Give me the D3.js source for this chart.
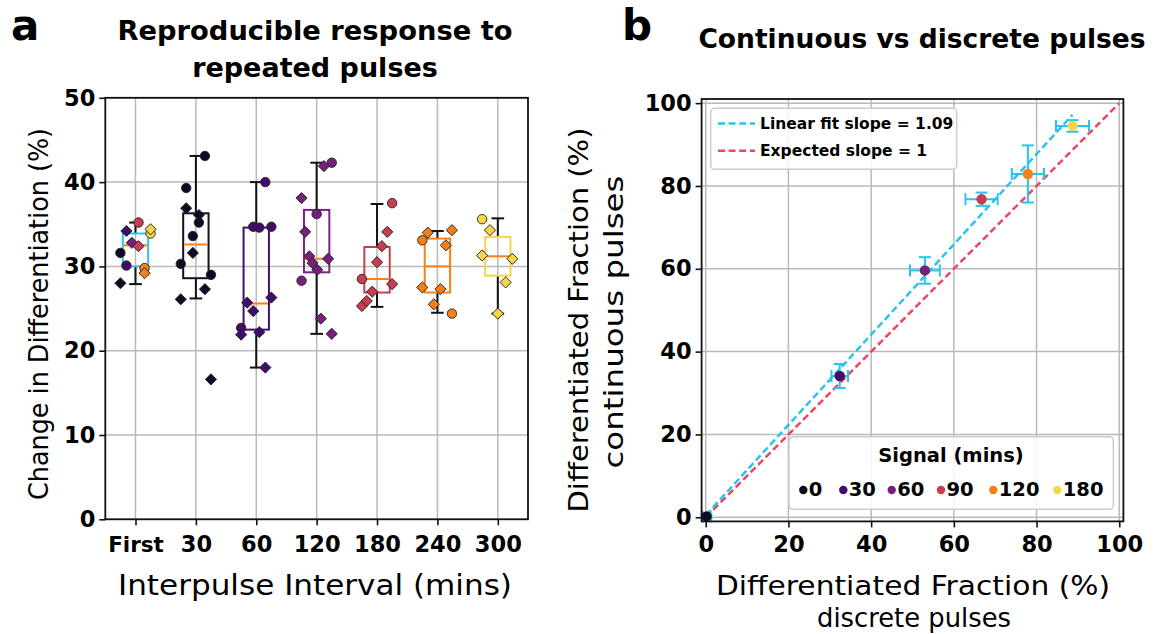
<!DOCTYPE html>
<html>
<head>
<meta charset="utf-8">
<script src="https://cdn.jsdelivr.net/npm/d3@7"></script>
<style>
  html, body { margin: 0; padding: 0; background: #ffffff; }
  svg { display: block; font-family: "DejaVu Sans", sans-serif; }
</style>
</head>
<body>
<svg id="fig" width="1154" height="634"></svg>
<script>
// ---------- Panel a: response to repeated pulses ----------
const categories = ["First", "30", "60", "120", "180", "240", "300"];
const yTicksA = [0, 10, 20, 30, 40, 50];

// Box statistics per interval
const boxQ1 = [30.0, 28.6, 22.5, 29.3, 26.9, 26.9, 28.9];
const boxMedian = [32.5, 32.6, 25.6, 30.9, 28.5, 30.0, 31.2];
const boxQ3 = [33.9, 36.3, 34.6, 36.7, 32.3, 33.3, 33.5];
const whiskerLow = [27.9, 26.2, 18.0, 22.0, 25.2, 24.5, 24.4];
const whiskerHigh = [35.2, 43.1, 40.0, 42.3, 37.4, 34.2, 35.7];

// Series colours (signal index 0..5) and box colours per category
const seriesColors = ["#0e0a22", "#420d6a", "#761f7c", "#c83e50", "#f57f17", "#f6d648"];
const boxColors = ["#2fc3f0", "#140e26", "#440f70", "#7a2380", "#c83e50", "#f78114", "#f6d648"];

// Individual measurements: [category, offset, value, marker, colour index]
const firstPts = [
  [0, -0.25, 31.6, "o", 0], [0, -0.25, 28.0, "d", 0],
  [0, -0.15, 30.1, "o", 1], [0, -0.15, 34.2, "d", 1],
  [0, -0.06, 32.8, "d", 2],
  [0, 0.05, 35.2, "o", 3], [0, 0.05, 32.4, "d", 3],
  [0, 0.15, 29.8, "o", 4], [0, 0.15, 29.2, "d", 4],
  [0, 0.25, 33.9, "o", 5], [0, 0.25, 34.4, "d", 5]
];
const pts30 = [
  [1, -0.25, 30.3, "o", 0], [1, -0.25, 26.1, "d", 0],
  [1, -0.16, 39.3, "o", 0], [1, -0.16, 36.9, "d", 0],
  [1, -0.05, 33.6, "o", 0], [1, -0.05, 31.6, "d", 0],
  [1, 0.05, 35.2, "o", 0], [1, 0.05, 36.1, "d", 0],
  [1, 0.15, 43.1, "o", 0], [1, 0.15, 27.3, "d", 0],
  [1, 0.25, 29.0, "o", 0], [1, 0.25, 16.6, "d", 0]
];
const pts60 = [
  [2, -0.25, 22.7, "o", 1], [2, -0.25, 21.9, "d", 1],
  [2, -0.15, 25.7, "d", 1],
  [2, -0.05, 34.7, "o", 1], [2, -0.05, 24.7, "d", 1],
  [2, 0.05, 34.6, "o", 1], [2, 0.05, 22.2, "d", 1],
  [2, 0.15, 40.0, "o", 1], [2, 0.15, 18.0, "d", 1],
  [2, 0.25, 34.7, "o", 1], [2, 0.25, 26.3, "d", 1]
];
const pts120 = [
  [3, -0.25, 28.3, "o", 2], [3, -0.25, 38.1, "d", 2],
  [3, -0.19, 34.1, "d", 2], [3, -0.12, 31.2, "d", 2],
  [3, -0.07, 30.4, "d", 2], [3, 0.0, 36.2, "o", 2],
  [3, 0.01, 29.6, "d", 2], [3, 0.07, 23.8, "d", 2],
  [3, 0.12, 41.9, "d", 2], [3, 0.19, 30.9, "d", 2],
  [3, 0.25, 42.3, "o", 2], [3, 0.25, 22.0, "d", 2]
];
const pts180 = [
  [4, -0.25, 28.5, "o", 3], [4, -0.25, 25.3, "d", 3],
  [4, -0.17, 25.9, "d", 3], [4, -0.08, 27.0, "d", 3],
  [4, 0.0, 30.5, "d", 3], [4, 0.08, 32.4, "d", 3],
  [4, 0.17, 34.1, "d", 3],
  [4, 0.25, 37.5, "o", 3], [4, 0.25, 27.9, "d", 3]
];
const pts240 = [
  [5, -0.25, 33.1, "o", 4], [5, -0.25, 27.5, "d", 4],
  [5, -0.16, 34.0, "d", 4], [5, -0.06, 25.5, "d", 4],
  [5, 0.05, 27.3, "d", 4], [5, 0.14, 32.5, "d", 4],
  [5, 0.24, 24.4, "o", 4], [5, 0.24, 34.3, "d", 4]
];
const pts300 = [
  [6, -0.26, 35.6, "o", 5], [6, -0.26, 31.3, "d", 5],
  [6, -0.13, 34.3, "d", 5], [6, 0.0, 24.4, "d", 5],
  [6, 0.13, 28.1, "d", 5], [6, 0.24, 30.9, "d", 5]
];

// ---------- Panel b: continuous vs discrete ----------
const signalLabels = ["0", "30", "60", "90", "120", "180"];
const discreteFrac = [0.2, 32.4, 53.0, 66.7, 77.9, 88.7];
const discreteErr = [1.0, 2.0, 3.6, 3.9, 3.9, 4.0];
const continuousFrac = [0.2, 34.1, 59.6, 76.8, 82.9, 94.5];
const continuousErr = [0.4, 2.9, 3.2, 1.6, 6.9, 1.4];
const fitSlope = 1.09;
const fitIntercept = 0.5;
const expectedSlope = 1;
const ticksB = [0, 20, 40, 60, 80, 100];

const svg = d3.select("#fig");
const gridColor = "#b9b9b9";
const FONT = "DejaVu Sans, sans-serif";

// text helper: fixed extent so label spans its slot
function label(g, txt, opts) {
  const t = g.append("text")
    .attr("text-anchor", "middle").attr("dominant-baseline", "central")
    .attr("font-family", FONT).attr("font-size", opts.size)
    .attr("font-weight", opts.bold ? "bold" : "normal")
    .text(txt);
  if (opts.rotate) t.attr("transform", `translate(${opts.x},${opts.y}) rotate(-90)`);
  else t.attr("x", opts.x).attr("y", opts.y);
  if (opts.len) t.attr("textLength", opts.len).attr("lengthAdjust", "spacingAndGlyphs");
  return t;
}

// ===== Panel a =====
const ax = { left: 105.3, right: 528, top: 97.8, bottom: 519.3 };
const xA = d3.scaleLinear().domain([-0.5, 6.5]).range([ax.left, ax.right]);
const yA = d3.scaleLinear().domain([0, 50]).range([ax.bottom, ax.top]);
const gA = svg.append("g");

// grid
gA.selectAll("line.vgrid").data(categories).join("line")
  .attr("x1", (d, i) => xA(i)).attr("x2", (d, i) => xA(i))
  .attr("y1", ax.top).attr("y2", ax.bottom)
  .attr("stroke", gridColor).attr("stroke-width", 1.5);
gA.selectAll("line.hgrid").data(yTicksA).join("line")
  .attr("x1", ax.left).attr("x2", ax.right)
  .attr("y1", d => yA(d)).attr("y2", d => yA(d))
  .attr("stroke", gridColor).attr("stroke-width", 1.5);

// boxes
const boxW = 0.42, capW = 0.21;
const boxes = gA.selectAll("g.box").data(categories).join("g");
boxes.append("line") // lower whisker
  .attr("x1", (d, i) => xA(i)).attr("x2", (d, i) => xA(i))
  .attr("y1", (d, i) => yA(boxQ1[i])).attr("y2", (d, i) => yA(whiskerLow[i]))
  .attr("stroke", "#111").attr("stroke-width", 2);
boxes.append("line") // upper whisker
  .attr("x1", (d, i) => xA(i)).attr("x2", (d, i) => xA(i))
  .attr("y1", (d, i) => yA(boxQ3[i])).attr("y2", (d, i) => yA(whiskerHigh[i]))
  .attr("stroke", "#111").attr("stroke-width", 2);
boxes.append("line") // lower cap
  .attr("x1", (d, i) => xA(i - capW / 2)).attr("x2", (d, i) => xA(i + capW / 2))
  .attr("y1", (d, i) => yA(whiskerLow[i])).attr("y2", (d, i) => yA(whiskerLow[i]))
  .attr("stroke", "#111").attr("stroke-width", 2);
boxes.append("line") // upper cap
  .attr("x1", (d, i) => xA(i - capW / 2)).attr("x2", (d, i) => xA(i + capW / 2))
  .attr("y1", (d, i) => yA(whiskerHigh[i])).attr("y2", (d, i) => yA(whiskerHigh[i]))
  .attr("stroke", "#111").attr("stroke-width", 2);
boxes.append("rect")
  .attr("x", (d, i) => xA(i - boxW / 2))
  .attr("width", (d, i) => xA(i + boxW / 2) - xA(i - boxW / 2))
  .attr("y", (d, i) => yA(boxQ3[i]))
  .attr("height", (d, i) => yA(boxQ1[i]) - yA(boxQ3[i]))
  .attr("fill", "none").attr("stroke", (d, i) => boxColors[i]).attr("stroke-width", 2);
boxes.append("line") // median
  .attr("x1", (d, i) => xA(i - boxW / 2) + 1).attr("x2", (d, i) => xA(i + boxW / 2) - 1)
  .attr("y1", (d, i) => yA(boxMedian[i])).attr("y2", (d, i) => yA(boxMedian[i]))
  .attr("stroke", "#ff7f0e").attr("stroke-width", 2);

// points: circles beneath diamonds
const allPts = [].concat(firstPts, pts30, pts60, pts120, pts180, pts240, pts300);
const circleSym = d3.symbol().type(d3.symbolCircle).size(70);
const diamondSym = d3.symbol().type(d3.symbolSquare).size(62);
const orderPts = allPts.filter(p => p[3] === "o").concat(allPts.filter(p => p[3] === "d"));
gA.selectAll("path.pt").data(orderPts).join("path")
  .attr("d", p => p[3] === "o" ? circleSym() : diamondSym())
  .attr("transform", p => `translate(${xA(p[0] + p[1])},${yA(p[2])})` + (p[3] === "d" ? " rotate(45)" : ""))
  .attr("fill", p => seriesColors[p[4]])
  .attr("stroke", "#222").attr("stroke-width", 0.9);

// axes frame
gA.append("rect").attr("x", ax.left).attr("y", ax.top)
  .attr("width", ax.right - ax.left).attr("height", ax.bottom - ax.top)
  .attr("fill", "none").attr("stroke", "#111").attr("stroke-width", 1.8);

const axisLeftA = d3.axisLeft(yA).tickValues(yTicksA).tickSize(6).tickPadding(4);
const gyA = gA.append("g").attr("transform", `translate(${ax.left},0)`).call(axisLeftA);
const axisBottomA = d3.axisBottom(xA).tickValues(d3.range(categories.length))
  .tickFormat(i => categories[i]).tickSize(6).tickPadding(11);
const gxA = gA.append("g").attr("transform", `translate(0,${ax.bottom})`).call(axisBottomA);
[gyA, gxA].forEach(g => {
  g.select(".domain").remove();
  g.selectAll(".tick line").attr("stroke", "#111").attr("stroke-width", 1.6);
  g.selectAll(".tick text").attr("font-family", FONT).attr("font-weight", "bold")
    .attr("font-size", 22.5).attr("fill", "#000");
});
gxA.selectAll(".tick text").filter(i => i === 0).attr("font-size", 21.5);

// labels
label(gA, "Change in Differentiation (%)", { x: 38, y: 314, size: 27, rotate: true, len: 372 });
label(gA, "Interpulse Interval (mins)", { x: 315, y: 585, size: 29, len: 394 });
gA.append("text").attr("x", 315).attr("y", 40).attr("text-anchor", "middle")
  .attr("font-family", FONT).attr("font-weight", "bold").attr("font-size", 27)
  .attr("textLength", 395).attr("lengthAdjust", "spacingAndGlyphs")
  .text("Reproducible response to");
gA.append("text").attr("x", 315).attr("y", 77).attr("text-anchor", "middle")
  .attr("font-family", FONT).attr("font-weight", "bold").attr("font-size", 27)
  .text("repeated pulses");
gA.append("text").attr("x", 11).attr("y", 40)
  .attr("font-family", FONT).attr("font-weight", "bold").attr("font-size", 42).text("a");

// ===== Panel b =====
const bx = { left: 701.6, right: 1123.4, top: 99, bottom: 521.4 };
const xB = d3.scaleLinear().domain([-1, 101]).range([bx.left, bx.right]);
const yB = d3.scaleLinear().domain([-1, 101]).range([bx.bottom, bx.top]);
const gB = svg.append("g");

gB.selectAll("line.vg").data(ticksB).join("line")
  .attr("x1", d => xB(d)).attr("x2", d => xB(d)).attr("y1", bx.top).attr("y2", bx.bottom)
  .attr("stroke", gridColor).attr("stroke-width", 1.5);
gB.selectAll("line.hg").data(ticksB).join("line")
  .attr("y1", d => yB(d)).attr("y2", d => yB(d)).attr("x1", bx.left).attr("x2", bx.right)
  .attr("stroke", gridColor).attr("stroke-width", 1.5);

const cyan = "#29c3ee";
const red = "#e84a5f";

// reference and fit lines
const fitX = [0, d3.max(discreteFrac)];
gB.append("line")
  .attr("x1", xB(0)).attr("y1", yB(0))
  .attr("x2", xB(100)).attr("y2", yB(100 * expectedSlope))
  .attr("stroke", red).attr("stroke-width", 2.5).attr("stroke-dasharray", "7,3.6");
gB.append("line")
  .attr("x1", xB(fitX[0])).attr("y1", yB(fitIntercept + fitSlope * fitX[0]))
  .attr("x2", xB(fitX[1])).attr("y2", yB(fitIntercept + fitSlope * fitX[1]))
  .attr("stroke", cyan).attr("stroke-width", 2.5).attr("stroke-dasharray", "7,3.6");

// error bars
const eb = gB.selectAll("g.eb").data(signalLabels).join("g");
const capH = 6;
eb.append("line")
  .attr("x1", (d, i) => xB(discreteFrac[i] - discreteErr[i])).attr("x2", (d, i) => xB(discreteFrac[i] + discreteErr[i]))
  .attr("y1", (d, i) => yB(continuousFrac[i])).attr("y2", (d, i) => yB(continuousFrac[i]))
  .attr("stroke", cyan).attr("stroke-width", 2);
eb.append("line")
  .attr("x1", (d, i) => xB(discreteFrac[i])).attr("x2", (d, i) => xB(discreteFrac[i]))
  .attr("y1", (d, i) => yB(continuousFrac[i] - continuousErr[i])).attr("y2", (d, i) => yB(continuousFrac[i] + continuousErr[i]))
  .attr("stroke", cyan).attr("stroke-width", 2);
[-1, 1].forEach(s => {
  eb.append("line")
    .attr("x1", (d, i) => xB(discreteFrac[i] + s * discreteErr[i])).attr("x2", (d, i) => xB(discreteFrac[i] + s * discreteErr[i]))
    .attr("y1", (d, i) => yB(continuousFrac[i]) - capH).attr("y2", (d, i) => yB(continuousFrac[i]) + capH)
    .attr("stroke", cyan).attr("stroke-width", 2);
  eb.append("line")
    .attr("y1", (d, i) => yB(continuousFrac[i] + s * continuousErr[i])).attr("y2", (d, i) => yB(continuousFrac[i] + s * continuousErr[i]))
    .attr("x1", (d, i) => xB(discreteFrac[i]) - capH).attr("x2", (d, i) => xB(discreteFrac[i]) + capH)
    .attr("stroke", cyan).attr("stroke-width", 2);
});
gB.selectAll("circle.pt").data(signalLabels).join("circle")
  .attr("cx", (d, i) => xB(discreteFrac[i])).attr("cy", (d, i) => yB(continuousFrac[i]))
  .attr("r", 5.2).attr("fill", (d, i) => seriesColors[i]);

// frame + axes
gB.append("rect").attr("x", bx.left).attr("y", bx.top)
  .attr("width", bx.right - bx.left).attr("height", bx.bottom - bx.top)
  .attr("fill", "none").attr("stroke", "#111").attr("stroke-width", 1.8);
const gyB = gB.append("g").attr("transform", `translate(${bx.left},0)`)
  .call(d3.axisLeft(yB).tickValues(ticksB).tickSize(6).tickPadding(4));
const gxB = gB.append("g").attr("transform", `translate(0,${bx.bottom})`)
  .call(d3.axisBottom(xB).tickValues(ticksB).tickSize(6).tickPadding(9));
[gyB, gxB].forEach(g => {
  g.select(".domain").remove();
  g.selectAll(".tick line").attr("stroke", "#111").attr("stroke-width", 1.6);
  g.selectAll(".tick text").attr("font-family", FONT).attr("font-weight", "bold")
    .attr("font-size", 22.5).attr("fill", "#000");
});

// fit legend
const lg1 = gB.append("g");
lg1.append("rect").attr("x", 710.7).attr("y", 108.3).attr("width", 246).attr("height", 61)
  .attr("rx", 4).attr("fill", "#fff").attr("fill-opacity", 0.85)
  .attr("stroke", "#cccccc").attr("stroke-width", 1.5);
const lg1Items = [["Linear fit slope = " + fitSlope.toFixed(2), cyan], ["Expected slope = " + expectedSlope, red]];
lg1Items.forEach((it, k) => {
  const yy = 123.5 + k * 27.3;
  lg1.append("line").attr("x1", 718).attr("x2", 755).attr("y1", yy).attr("y2", yy)
    .attr("stroke", it[1]).attr("stroke-width", 2.5).attr("stroke-dasharray", "7,3.6");
  lg1.append("text").attr("x", 760).attr("y", yy).attr("dominant-baseline", "central")
    .attr("font-family", FONT).attr("font-weight", "bold").attr("font-size", 15.5).text(it[0]);
});

// signal legend
const lg2 = gB.append("g");
lg2.append("rect").attr("x", 789).attr("y", 436.7).attr("width", 324.3).attr("height", 72.6)
  .attr("rx", 4).attr("fill", "#fff").attr("fill-opacity", 0.85)
  .attr("stroke", "#cccccc").attr("stroke-width", 1.5);
lg2.append("text").attr("x", 951).attr("y", 455).attr("text-anchor", "middle").attr("dominant-baseline", "central")
  .attr("font-family", FONT).attr("font-weight", "bold").attr("font-size", 19.5).text("Signal (mins)");
const legendDotX = [803.3, 843.3, 891.7, 941, 993.3, 1057.3];
signalLabels.forEach((s, i) => {
  lg2.append("circle").attr("cx", legendDotX[i]).attr("cy", 490).attr("r", 4.2).attr("fill", seriesColors[i]);
  lg2.append("text").attr("x", legendDotX[i] + 5.5).attr("y", 489).attr("dominant-baseline", "central")
    .attr("font-family", FONT).attr("font-weight", "bold").attr("font-size", 19.5).text(s);
});

// labels
label(gB, "Differentiated Fraction (%)", { x: 578, y: 320, size: 27, rotate: true, len: 385 });
label(gB, "continuous pulses", { x: 613, y: 322, size: 27, rotate: true, len: 293 });
label(gB, "Differentiated Fraction (%)", { x: 913, y: 585, size: 27, len: 394 });
label(gB, "discrete pulses", { x: 914, y: 617, size: 27, len: 194 });
gB.append("text").attr("x", 922).attr("y", 48).attr("text-anchor", "middle")
  .attr("font-family", FONT).attr("font-weight", "bold").attr("font-size", 26.5)
  .text("Continuous vs discrete pulses");
gB.append("text").attr("x", 622).attr("y", 40)
  .attr("font-family", FONT).attr("font-weight", "bold").attr("font-size", 42).text("b");
</script>
</body>
</html>
